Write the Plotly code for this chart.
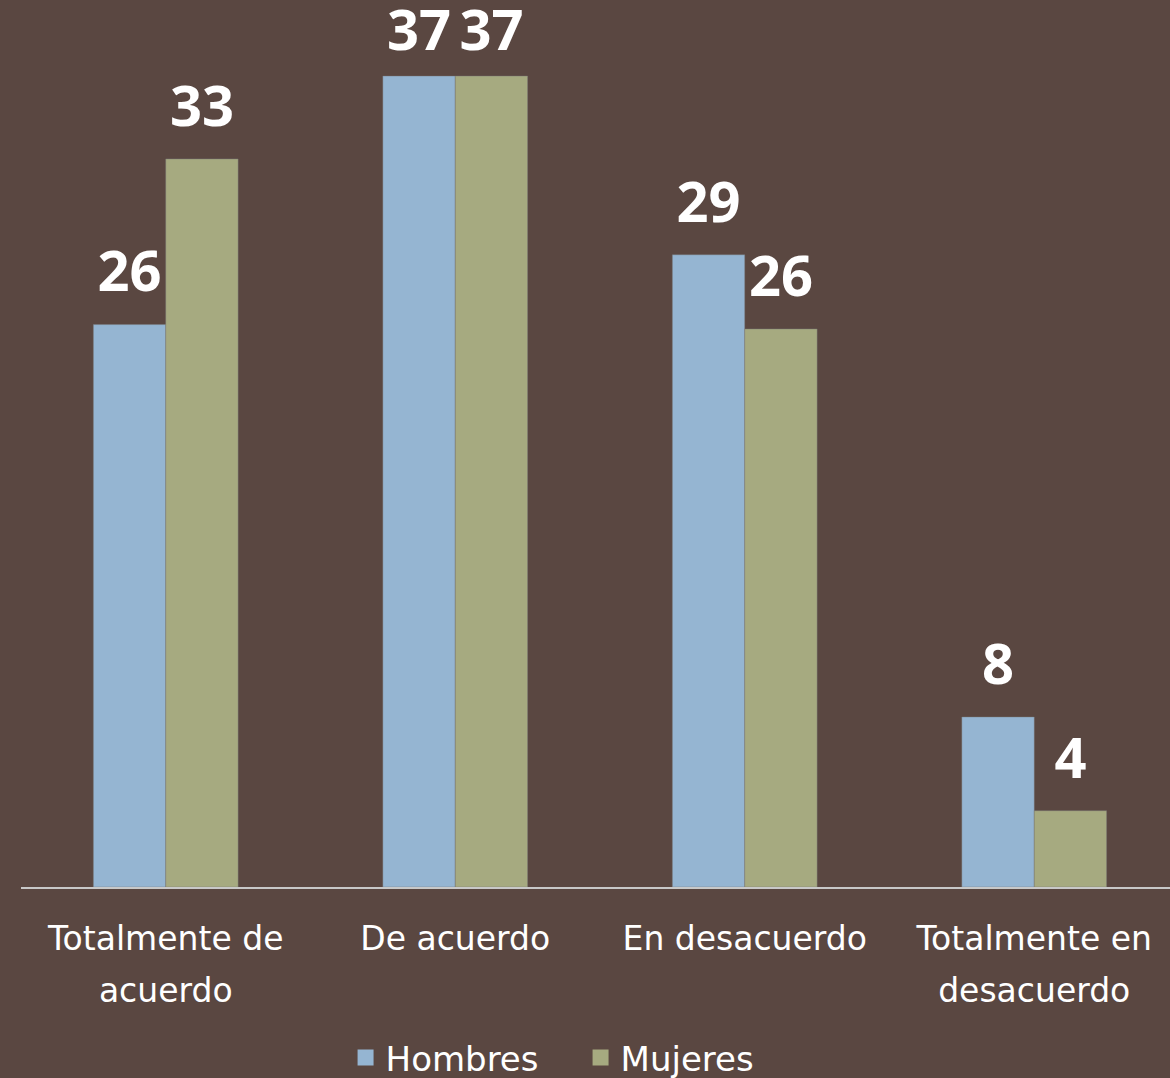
import plotly.graph_objects as go

categories = ["Totalmente de acuerdo", "De acuerdo", "En desacuerdo", "Totalmente en desacuerdo"]
tick_line1 = ["Totalmente de", "De acuerdo", "En desacuerdo", "Totalmente en"]
tick_line2 = ["acuerdo", "", "", "desacuerdo"]
hombres = [25.8, 37.2, 29.0, 7.8]
mujeres = [33.4, 37.2, 25.6, 3.5]

BG = "#5A4741"
BLUE = "#95B5D2"
GREEN = "#A6AA80"
FONT = "DejaVu Sans"
NUMFONT = "Open Sans"
YMAX = 40.23

fig = go.Figure()
for name, vals, col in [("Hombres", hombres, BLUE), ("Mujeres", mujeres, GREEN)]:
    fig.add_trace(go.Bar(
        name=name, x=categories, y=vals, offsetgroup=name, showlegend=False,
        marker=dict(color=col, line=dict(color="rgba(120,120,120,0.6)", width=0.7)),
        cliponaxis=False, hoverinfo="skip",
    ))
for name, vals, col in [("Hombres", hombres, BLUE), ("Mujeres", mujeres, GREEN)]:
    # labels near the top of the chart sit a little closer to their bar (kept inside the chart)
    sizes = [18 if v > 36 else 29 for v in vals]
    fig.add_trace(go.Scatter(
        name=name, x=categories, y=vals, offsetgroup=name, showlegend=False,
        mode="markers+text", marker=dict(size=sizes, opacity=0),
        text=[f"{v:.0f}" for v in vals], textposition="top center",
        textfont=dict(family=NUMFONT, size=56, color="white", weight="bold"),
        cliponaxis=False, hoverinfo="skip",
    ))
# second line of the category labels lives on an overlaid axis
fig.add_trace(go.Scatter(x=[0, 1, 2, 3], y=[0, 0, 0, 0], xaxis="x2", mode="markers",
                         marker=dict(opacity=0), showlegend=False, hoverinfo="skip"))
# legend entries
for name, col in [("Hombres", BLUE), ("Mujeres", GREEN)]:
    fig.add_trace(go.Scatter(
        name=name, x=[None], y=[None], mode="markers",
        marker=dict(symbol="square", size=22, color=col), showlegend=True,
    ))

fig.update_layout(
    width=1170, height=1078,
    paper_bgcolor=BG, plot_bgcolor=BG,
    margin=dict(l=21, r=0, t=10, b=191, autoexpand=False),
    barmode="group", bargap=0.5, bargroupgap=0,
    scattermode="group", scattergap=0.5,
    font=dict(family=FONT, color="white", size=33),
    legend=dict(orientation="h", x=0.487, xanchor="center", yref="container",
                y=1 - 1058 / 1078, yanchor="middle", entrywidth=190,
                font=dict(size=34, color="white"), itemwidth=30, traceorder="normal",
                bgcolor="rgba(0,0,0,0)", itemsizing="trace"),
    xaxis=dict(range=[-0.5, 3.469], showline=True, linecolor="#C8C8C8", linewidth=2,
               ticks="", showgrid=False, ticklabelstandoff=21, automargin=False,
               tickmode="array", tickvals=categories, ticktext=tick_line1,
               tickfont=dict(size=33, color="white")),
    xaxis2=dict(range=[-0.5, 3.469], overlaying="x", side="bottom", anchor="y",
                showline=False, ticks="", showgrid=False, zeroline=False, automargin=False,
                tickmode="array", tickvals=[0, 1, 2, 3], ticktext=tick_line2,
                ticklabelstandoff=81, tickfont=dict(size=33, color="white")),
    yaxis=dict(range=[0, YMAX], visible=False, showgrid=False, zeroline=False),
)

fig.write_html("out.html", config={"displayModeBar": False},
               post_script="document.body.style.margin='0';")
